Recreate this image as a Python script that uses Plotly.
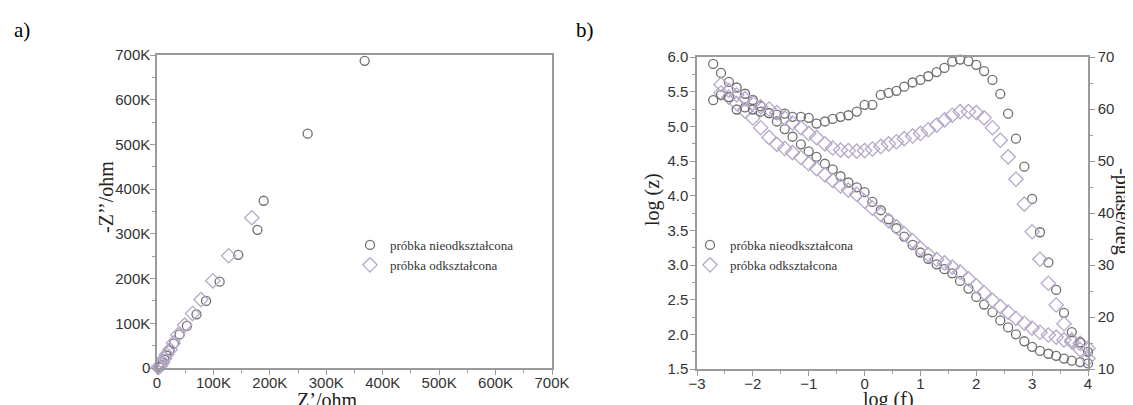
import plotly.graph_objects as go

# ---------------- data: panel a) Nyquist ----------------
z_re_undeformed = [4000, 5000, 6000, 8000, 10000, 13000, 17000, 22000, 30000, 40000, 53000,
                   70000, 87000, 111000, 144000, 178000, 189000, 267000, 368000]
z_im_undeformed = [1000, 2000, 4000, 7000, 12000, 19000, 28000, 40000, 55000, 75000, 94000,
                   120000, 150000, 193000, 253000, 309000, 374000, 524000, 687000]
z_re_deformed = [2000, 3000, 5000, 7000, 10000, 13000, 17000, 23000, 29000, 37000, 49000,
                 63000, 78000, 99000, 127000, 168000]
z_im_deformed = [1000, 2000, 4000, 8000, 13000, 21000, 30000, 41000, 56000, 74000, 96000,
                 122000, 153000, 195000, 251000, 336000]

# ---------------- data: panel b) Bode ----------------
log_f = [-2.71, -2.57, -2.43, -2.29, -2.14, -2.00, -1.86, -1.71, -1.57, -1.43, -1.29, -1.14,
         -1.00, -0.86, -0.71, -0.57, -0.43, -0.29, -0.14, 0.00, 0.14, 0.29, 0.43, 0.57,
         0.71, 0.86, 1.00, 1.14, 1.29, 1.43, 1.57, 1.71, 1.86, 2.00, 2.14, 2.29, 2.43,
         2.57, 2.71, 2.86, 3.00, 3.14, 3.29, 3.43, 3.57, 3.71, 3.86, 4.00]
log_z_undeformed = [5.90, 5.77, 5.64, 5.56, 5.47, 5.38, 5.29, 5.19, 5.07, 4.96, 4.85, 4.74,
                    4.64, 4.56, 4.46, 4.38, 4.28, 4.19, 4.12, 4.05, 3.91, 3.79, 3.66, 3.53,
                    3.41, 3.29, 3.18, 3.09, 3.01, 2.94, 2.88, 2.77, 2.66, 2.54, 2.43, 2.32,
                    2.20, 2.10, 2.00, 1.90, 1.82, 1.76, 1.72, 1.69, 1.65, 1.62, 1.60, 1.58]
phase_undeformed = [61.7, 62.7, 62.3, 59.9, 60.3, 59.9, 59.5, 59.2, 58.9, 59.1, 58.5, 58.5,
                    58.3, 57.2, 57.6, 58.1, 58.5, 58.8, 59.5, 60.8, 60.8, 62.7, 63.1, 63.5,
                    64.3, 65.1, 65.6, 66.3, 67.1, 67.9, 69.1, 69.5, 69.2, 68.5, 67.3, 65.6,
                    62.9, 59.1, 54.3, 48.9, 42.7, 36.3, 30.5, 25.2, 20.8, 17.1, 15.1, 13.3]
log_f_deformed = log_f[1:]
log_z_deformed = [5.48, 5.42, 5.33, 5.22, 5.12, 4.98, 4.84, 4.74, 4.68, 4.62, 4.55,
                  4.46, 4.39, 4.30, 4.22, 4.14, 4.08, 4.02, 3.92, 3.82, 3.73, 3.64, 3.55,
                  3.45, 3.35, 3.24, 3.15, 3.08, 3.03, 2.97, 2.90, 2.80, 2.70, 2.60, 2.49,
                  2.40, 2.32, 2.23, 2.16, 2.09, 2.03, 1.99, 1.96, 1.92, 1.89, 1.87, 1.80]
phase_deformed = [64.7, 63.6, 62.7, 62.0, 61.1, 60.4, 60.0, 59.3, 58.3, 57.3, 56.4,
                  55.3, 54.5, 53.3, 52.5, 52.1, 52.0, 51.9, 52.0, 52.3, 52.8, 53.3, 53.7,
                  54.3, 54.8, 55.3, 56.0, 56.9, 57.9, 58.8, 59.5, 59.5, 59.3, 58.3, 56.4,
                  54.0, 50.8, 46.5, 41.7, 36.4, 31.1, 26.5, 22.3, 18.7, 15.6, 13.7, 12.0]

nyq_ticks = [0, 100000, 200000, 300000, 400000, 500000, 600000, 700000]
nyq_labels = ["0", "100K", "200K", "300K", "400K", "500K", "600K", "700K"]
name_u = "próbka nieodkształcona"
name_d = "próbka odkształcona"

# ---------------- styles ----------------
C_CIRC = "#6f6f6f"
C_DIAM = "#b6a8c9"
OFF = 8                      # page body margin of the browser
PAGE_W, PAGE_H = 1133, 405
W, H = PAGE_W - OFF, PAGE_H - OFF
AXC = "#9a9a9a"
TICKFONT = dict(family="Liberation Sans, Arial, sans-serif", size=15, color="#333333")
SERIF = "Liberation Serif, Times New Roman, serif"

circ = dict(symbol="circle-open", size=9, color=C_CIRC, line=dict(width=1.3, color=C_CIRC))
diam = dict(symbol="diamond-open", size=11, color=C_DIAM, line=dict(width=1.3, color=C_DIAM))


def px_x(p):
    return (p - OFF) / W


def px_y(p):
    return 1 - (p - OFF) / H


def axis(**kw):
    d = dict(showline=True, linecolor=AXC, linewidth=1.5, ticks="outside", ticklen=5,
             tickcolor=AXC, tickwidth=1, showgrid=False, zeroline=False, tickfont=TICKFONT,
             automargin=False,
             minor=dict(ticks="outside", ticklen=3, tickcolor=AXC, tickwidth=1))
    d.update(kw)
    return d


fig = go.Figure()

# panel a
fig.add_trace(go.Scatter(x=z_re_undeformed, y=z_im_undeformed, mode="markers", marker=circ,
                         name=name_u, xaxis="x", yaxis="y", legend="legend2", cliponaxis=False))
fig.add_trace(go.Scatter(x=z_re_deformed, y=z_im_deformed, mode="markers", marker=diam,
                         name=name_d, xaxis="x", yaxis="y", legend="legend2", cliponaxis=False))

# panel b
fig.add_trace(go.Scatter(x=log_f, y=log_z_undeformed, mode="markers", marker=circ,
                         name=name_u, xaxis="x2", yaxis="y2", legend="legend",
                         legendgroup="u", cliponaxis=False))
fig.add_trace(go.Scatter(x=log_f_deformed, y=log_z_deformed, mode="markers", marker=diam,
                         name=name_d, xaxis="x2", yaxis="y2", legend="legend",
                         legendgroup="d", cliponaxis=False))
fig.add_trace(go.Scatter(x=log_f, y=phase_undeformed, mode="markers", marker=circ,
                         name=name_u, xaxis="x2", yaxis="y3", showlegend=False,
                         legendgroup="u", cliponaxis=False))
fig.add_trace(go.Scatter(x=log_f_deformed, y=phase_deformed, mode="markers", marker=diam,
                         name=name_d, xaxis="x2", yaxis="y3", showlegend=False,
                         legendgroup="d", cliponaxis=False))

legend_font = dict(family=SERIF, size=13, color="#333333")

fig.update_layout(
    width=W, height=H, autosize=False,
    margin=dict(l=0, r=0, t=0, b=0, pad=0),
    paper_bgcolor="white", plot_bgcolor="white",
    xaxis=axis(domain=[px_x(157), px_x(552)], range=[0, 700000], tickvals=nyq_ticks,
               ticktext=nyq_labels, anchor="y", mirror=True, ticklabelstandoff=-5,
               minor=dict(ticks="outside", ticklen=3, tickcolor=AXC, dtick=50000, tick0=0)),
    yaxis=axis(domain=[px_y(368), px_y(55)], range=[0, 700000], tickvals=nyq_ticks,
               ticktext=nyq_labels, anchor="x", mirror=True, ticklabelstandoff=-3,
               minor=dict(ticks="outside", ticklen=3, tickcolor=AXC, dtick=50000, tick0=0)),
    xaxis2=axis(domain=[px_x(697), px_x(1088)], range=[-3, 4], dtick=1, tick0=-3,
                anchor="y2", mirror=True, ticklabelstandoff=-5,
                minor=dict(ticks="outside", ticklen=3, tickcolor=AXC, dtick=0.5)),
    yaxis2=axis(domain=[px_y(369), px_y(57)], range=[1.5, 6.0], dtick=0.5, tick0=1.5,
                tickformat=".1f", anchor="x2", ticklabelstandoff=-1,
                minor=dict(ticks="outside", ticklen=3, tickcolor=AXC, dtick=0.25)),
    yaxis3=axis(domain=[px_y(369), px_y(57)], range=[10, 70], dtick=10, tick0=10,
                anchor="x2", overlaying="y2", side="right",
                minor=dict(ticks="outside", ticklen=3, tickcolor=AXC, dtick=5)),
    legend=dict(x=px_x(690), y=px_y(230), xanchor="left", yanchor="top",
                font=legend_font, bgcolor="rgba(0,0,0,0)", tracegroupgap=0),
    legend2=dict(x=px_x(350), y=px_y(230), xanchor="left", yanchor="top",
                 font=legend_font, bgcolor="rgba(0,0,0,0)", tracegroupgap=0),
)

title_font = dict(family=SERIF, size=20, color="#222222")
annos = [
    dict(text="a)", x=px_x(22), y=px_y(30), font=dict(family=SERIF, size=21, color="black")),
    dict(text="b)", x=px_x(585), y=px_y(30), font=dict(family=SERIF, size=21, color="black")),
    dict(text="Z’/ohm", x=px_x(327), y=px_y(400), font=title_font),
    dict(text="-Z’’/ohm", x=px_x(106), y=px_y(197), font=title_font, textangle=-90),
    dict(text="log (f)", x=px_x(888), y=px_y(399), font=title_font),
    dict(text="log (z)", x=px_x(652), y=px_y(200), font=title_font, textangle=-90),
    dict(text="-phase/deg", x=px_x(1123), y=px_y(211), font=title_font, textangle=90),
]
for a in annos:
    a.update(xref="paper", yref="paper", showarrow=False, xanchor="center", yanchor="middle")
    fig.add_annotation(**a)

fig.write_html("out.html")
